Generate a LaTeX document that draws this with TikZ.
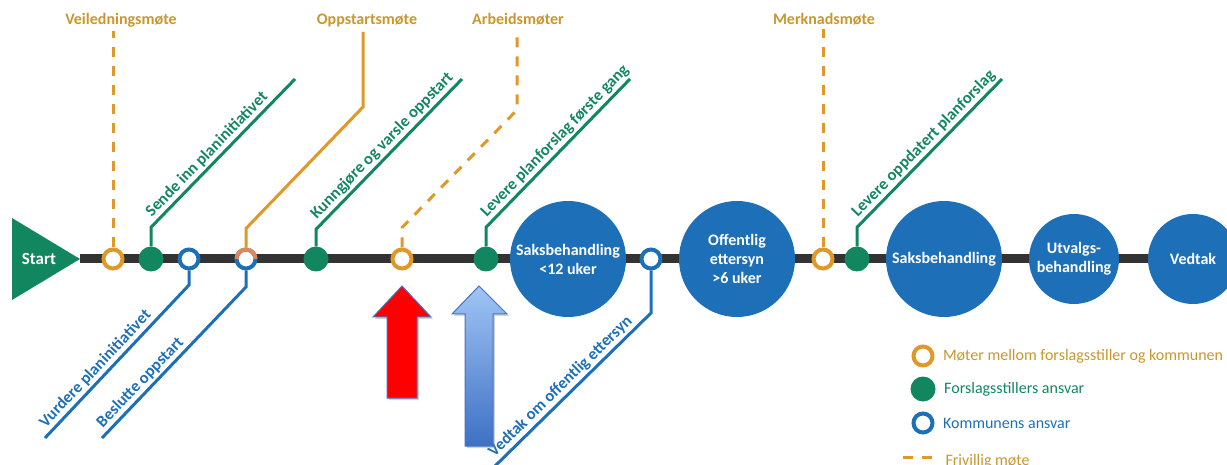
\documentclass[tikz,border=0pt]{standalone}
\usepackage{fontspec}
\setmainfont{Carlito}
\usetikzlibrary{positioning,shadows}

\definecolor{pgreen}{RGB}{18,135,95}
\definecolor{pblue}{RGB}{29,112,184}
\definecolor{porange}{RGB}{224,152,40}
\definecolor{plabel}{RGB}{201,151,46}
\definecolor{psalmon}{RGB}{218,137,92}
\definecolor{pdark}{RGB}{51,51,51}
\definecolor{arrowedge}{RGB}{68,114,196}
\definecolor{arrowtop}{RGB}{160,197,245}
\definecolor{arrowbot}{RGB}{62,113,196}

\begin{document}
\begin{tikzpicture}[x=1pt,y=1pt,
    font=\bfseries\fontsize{16}{19}\selectfont,
    meet/.style={circle, draw=porange, line width=4pt, fill=white, minimum size=19pt, inner sep=0pt},
    own/.style={circle, fill=pgreen, minimum size=25pt, inner sep=0pt},
    muni/.style={meet, draw=pblue},
    phase/.style={circle, fill=pblue, text=white, minimum size=116pt, inner sep=0pt, align=center},
    smallphase/.style={phase, minimum size=90pt},
    gline/.style={pgreen, line width=3pt},
    bline/.style={pblue, line width=3pt},
    oline/.style={porange, line width=3pt},
    optional/.style={oline, dash pattern=on 10pt off 9pt},
    toplabel/.style={text=plabel, anchor=base},
    slabel/.style={sloped, pos=0.02, anchor=south west, inner sep=2pt, font=\bfseries\fontsize{16.5}{19}\selectfont},
    legend/.style={anchor=west, font=\fontsize{16}{19}\selectfont},
    bigarrow/.style={draw=arrowedge, line width=1pt, drop shadow={opacity=0.35, shadow xshift=2pt, shadow yshift=-2pt}}]
    \useasboundingbox (0,0) rectangle (1227,464);
    \clip (0,0) rectangle (1227,464);

    % main line and start
    \draw[pdark, line width=9pt] (80,205) -- (1240,205);
    \fill[pgreen] (12,246) -- (80,205) -- (12,164) -- cycle;
    \node[text=white, font=\bfseries\fontsize{17}{19}\selectfont] (start) at (39,205) {Start};

    % steps on the line
    \node[meet] (v1) at (113,205) {};
    \node[own]  (f1) at (151,205) {};
    \node[muni] (k1) at (189,205) {};
    \node[muni] (os) at (246,205) {};
    \draw[psalmon, line width=4pt] (os.center) ++(180:9.5) arc[start angle=180, end angle=0, radius=9.5];
    \node[own]  (f2) at (316,205) {};
    \node[meet] (ar) at (402,205) {};
    \node[own]  (f3) at (486,205) {};
    \node[phase] (sb1) at (568,205) {Saksbehandling\\\textless12 uker};
    \node[muni] (k2) at (651,205) {};
    \node[phase] (oe) at (737,205) {Offentlig\\ettersyn\\\textgreater6 uker};
    \node[meet] (me) at (823,205) {};
    \node[own]  (f4) at (857,205) {};
    \node[phase] (sb2) at (944,205) {Saksbehandling};
    \node[smallphase] (ub) at (1074,205) {Utvalgs-\\behandling};
    \node[smallphase] (vt) at (1193,205) {Vedtak};

    % meetings
    \node[toplabel] (lv) at (121,439) {Veiledningsmøte};
    \node[toplabel] (lo) at (367,439) {Oppstartsmøte};
    \node[toplabel] (la) at (518,439) {Arbeidsmøter};
    \node[toplabel] (lm) at (824,439) {Merknadsmøte};
    \draw[optional] (v1.north) -- (v1.north |- lv.south);
    \draw[oline] (os.north) -- ++(0,19) -- (363,357) -- (363,432);
    \draw[optional] (ar.north) -- ++(0,20) -- (517,354) -- (517,432);
    \draw[optional] (me.north) -- (me.north |- lm.south);

    % forslagsstiller
    \draw[gline] (f1.north) -- ++(0,19) -- node[slabel, text=pgreen] {Sende inn planinitiativet} (295,385);
    \draw[gline] (f2.north) -- ++(0,17) -- node[slabel, text=pgreen] {Kunngjøre og varsle oppstart} (462,385);
    \draw[gline] (f3.north) -- ++(0,19) -- node[slabel, text=pgreen] {Levere planforslag første gang} (630,385);
    \draw[gline] (f4.north) -- ++(0,19) -- node[slabel, text=pgreen] {Levere oppdatert planforslag} (1002,385);

    % kommunen
    \draw[bline] (45,26) -- node[slabel, text=pblue] {Vurdere planinitiativet} (189,179) -- (k1.south);
    \draw[bline] (102,26) -- node[slabel, text=pblue] {Beslutte oppstart} (246,177) -- (os.south);
    \draw[bline] (493,-4) -- node[slabel, text=pblue] {Vedtak om offentlig ettersyn} (651,151) -- (k2.south);

    % arrows
    \draw[bigarrow, fill=red] (387,66) -- (387,147) -- (373,147) -- (402,178) -- (431,147) -- (417,147) -- (417,66) -- cycle;
    \draw[bigarrow, top color=arrowtop, bottom color=arrowbot] (465,18) -- (465,150) -- (452,150) -- (479,178) -- (507,150) -- (493,150) -- (493,18) -- cycle;

    % legend
    \node[meet] (lg1) at (923,108) {};
    \node[legend, text=plabel, right=5pt of lg1] {Møter mellom forslagsstiller og kommunen};
    \node[own] (lg2) at (923,75) {};
    \node[legend, text=pgreen, right=5pt of lg2] {Forslagsstillers ansvar};
    \node[muni] (lg3) at (923,41) {};
    \node[legend, text=pblue, right=5pt of lg3] {Kommunens ansvar};
    \draw[optional] (903,7) -- (933,7);
    \node[legend, text=plabel] at (942,3) {Frivillig møte};
\end{tikzpicture}
\end{document}
